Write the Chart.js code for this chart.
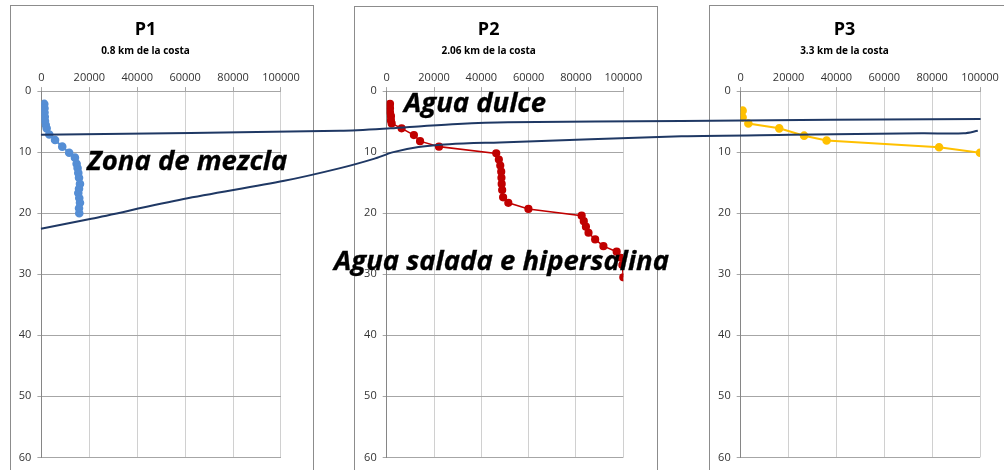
<!DOCTYPE html>
<html>
<head>
<meta charset="utf-8">
<script src="https://cdn.jsdelivr.net/npm/chart.js@4.4.0/dist/chart.umd.min.js"></script>
<style>
  html, body { margin: 0; padding: 0; background: #fff; }
  body { width: 1004px; height: 470px; overflow: hidden; position: relative; }
  .box { position: absolute; top: 5px; width: 304px; height: 520px; border: 1px solid #8c8c8c; box-sizing: border-box; }
  .panel { position: absolute; top: 5px; }
  #overlay { position: absolute; left: 0; top: 0; z-index: 2; pointer-events: none; }
  .label { position: absolute; z-index: 3; font-family: 'Open Sans', sans-serif; font-weight: bold; font-style: italic;
           font-size: 27.5px; line-height: 1; color: #000; white-space: nowrap;
           -webkit-text-stroke: 0.3px #000; }
</style>
</head>
<body>
<div class="box" style="left:10px"></div>
<div class="box" style="left:354px; top:6px"></div>
<div class="box" style="left:709px"></div>
<canvas id="p1" class="panel" width="304" height="465" style="left:10px"></canvas>
<canvas id="p2" class="panel" width="304" height="465" style="left:354px"></canvas>
<canvas id="p3" class="panel" width="304" height="465" style="left:709px"></canvas>
<canvas id="overlay" width="1004" height="470"></canvas>
<div class="label" style="left:404px; top:88px">Agua dulce</div>
<div class="label" style="left:87px; top:146px">Zona de mezcla</div>
<div class="label" style="left:334px; top:246px">Agua salada e hipersalina</div>
<script>
// salinity (x) vs depth in m (y) for each station
const stationNames = ['P1', 'P2', 'P3'];
const stationKm = [0.8, 2.06, 3.3];
const stationSub = ['0.8 km de la costa', '2.06 km de la costa', '3.3 km de la costa'];

const p1Depth = [2.1, 2.8, 3.5, 4.2, 4.9, 5.5, 6.1, 7.1, 8.0, 9.1, 10.1, 10.9, 11.9, 12.6, 13.4, 14.2, 15.2, 16.0, 16.7, 17.5, 18.3, 19.2, 20.0];
const p1Salinity = [1200, 1300, 1300, 1400, 1500, 1800, 2200, 3300, 5700, 8700, 11600, 14000, 14700, 15100, 15400, 15700, 16100, 15700, 15400, 15800, 16100, 15700, 15800];

const p2Depth = [2.1, 2.8, 3.5, 4.1, 4.8, 5.3, 6.1, 7.2, 8.2, 9.1, 10.2, 11.2, 12.2, 13.2, 14.2, 15.2, 16.2, 17.4, 18.3, 19.3, 20.4, 21.3, 22.2, 23.2, 24.3, 25.4, 26.3, 27.3, 28.5, 30.5];
const p2Salinity = [1400, 1400, 1400, 1800, 1800, 2100, 6300, 11500, 14100, 22100, 46300, 47400, 48000, 48400, 48500, 48600, 48800, 49200, 51400, 59900, 82400, 83300, 84200, 85300, 88100, 91600, 97200, 99000, 99600, 100000];

const p3Depth = [3.2, 4.3, 5.3, 6.1, 7.3, 8.1, 9.2, 10.1];
const p3Salinity = [800, 800, 3200, 16100, 26500, 35900, 82900, 100000];

// interfaces drawn across the three profiles: distance from coast (km) vs depth (m)
const upperKm = [0.37, 1.44, 1.62, 1.74, 1.86, 2.04, 2.66, 3.73];
const upperDepth = [7.17, 6.51, 6.10, 5.70, 5.37, 5.12, 4.88, 4.55];
const lowerKm = [0.37, 0.55, 0.88, 1.24, 1.44, 1.56, 1.63, 1.72, 1.83, 2.01, 2.66, 3.05, 3.52, 3.67, 3.72];
const lowerDepth = [22.55, 20.92, 17.69, 14.70, 12.62, 11.1, 10.0, 9.15, 8.69, 8.40, 7.41, 7.17, 6.92, 6.92, 6.51];

const xTicks = [0, 20000, 40000, 60000, 80000, 100000];
const yTicks = [0, 10, 20, 30, 40, 50, 60];

Chart.defaults.font.family = "'Open Sans', sans-serif";

const canvasLeft = [10, 354, 709];
const plotLeft = [31.4, 32.7, 31.7];
const plotWidth = [239.6, 236.6, 239.3];
const colors = ['#558ED5', '#C00000', '#FFC000'];
const lineWidths = [2, 1.6, 2];

function toPoints(xs, ys) {
  return xs.map((v, i) => ({ x: v, y: ys[i] }));
}

function makePanel(i, xs, ys) {
  const ctx = document.getElementById('p' + (i + 1)).getContext('2d');
  return new Chart(ctx, {
    type: 'scatter',
    data: {
      datasets: [{
        data: toPoints(xs, ys),
        showLine: true,
        borderColor: colors[i],
        backgroundColor: colors[i],
        borderWidth: lineWidths[i],
        pointRadius: 3.3,
        pointHoverRadius: 3.3
      }]
    },
    options: {
      responsive: false,
      animation: false,
      events: [],
      layout: { padding: { left: 0, top: 0, right: 304 - plotLeft[i] - plotWidth[i], bottom: 12 } },
      plugins: {
        legend: { display: false },
        tooltip: { enabled: false },
        title: { display: true, text: stationNames[i], color: '#000', font: { size: 18, weight: 'bold' }, padding: { top: 14, bottom: 0 } },
        subtitle: { display: true, text: stationSub[i], color: '#000', font: { size: 10, weight: 'bold' }, padding: { top: 5, bottom: 0 } }
      },
      scales: {
        x: {
          type: 'linear', position: 'top', min: 0, max: 100000,
          afterBuildTicks: s => { s.ticks = xTicks.map(v => ({ value: v })); },
          ticks: { color: '#333', font: { size: 11 }, padding: 3, maxRotation: 0, callback: v => String(v) },
          grid: { color: '#d0d0d0', tickLength: 4, tickColor: '#a6a6a6' },
          border: { color: '#a6a6a6' },
          afterFit: s => { s.height = 33.5; }
        },
        y: {
          type: 'linear', reverse: true, min: 0, max: 60,
          afterBuildTicks: s => { s.ticks = yTicks.map(v => ({ value: v })); },
          ticks: { color: '#333', font: { size: 11 }, padding: 6 },
          grid: { color: '#a6a6a6', tickLength: 4 },
          border: { color: '#868686' },
          afterFit: s => { s.width = plotLeft[i]; }
        }
      }
    }
  });
}

const panels = [
  makePanel(0, p1Salinity, p1Depth),
  makePanel(1, p2Salinity, p2Depth),
  makePanel(2, p3Salinity, p3Depth)
];

function makeOverlay() {
  // match the overlay scales to the panels: depth from the y axis, km from the panel centres
  const ya = panels[0].scales.y;
  const top0 = 5 + ya.getPixelForValue(0);
  const perM = (ya.getPixelForValue(60) - ya.getPixelForValue(0)) / 60;
  const a = panels[0].chartArea, c = panels[2].chartArea;
  const x1 = canvasLeft[0] + (a.left + a.right) / 2;
  const x3 = canvasLeft[2] + (c.left + c.right) / 2;
  const perKm = (x3 - x1) / (stationKm[2] - stationKm[0]);

  const ctx = document.getElementById('overlay').getContext('2d');
  new Chart(ctx, {
    type: 'scatter',
    data: {
      datasets: [
        { data: toPoints(upperKm, upperDepth), showLine: true, borderColor: '#1F3864', borderWidth: 2, pointRadius: 0, tension: 0.3 },
        { data: toPoints(lowerKm, lowerDepth), showLine: true, borderColor: '#1F3864', borderWidth: 2, pointRadius: 0, tension: 0.3 }
      ]
    },
    options: {
      responsive: false,
      animation: false,
      events: [],
      layout: { padding: 0 },
      plugins: { legend: { display: false }, tooltip: { enabled: false } },
      scales: {
        x: { type: 'linear', display: false, min: stationKm[0] - x1 / perKm, max: stationKm[0] + (1004 - x1) / perKm },
        y: { type: 'linear', display: false, reverse: true, min: -top0 / perM, max: (470 - top0) / perM }
      }
    }
  });
}

makeOverlay();
</script>
</body>
</html>
